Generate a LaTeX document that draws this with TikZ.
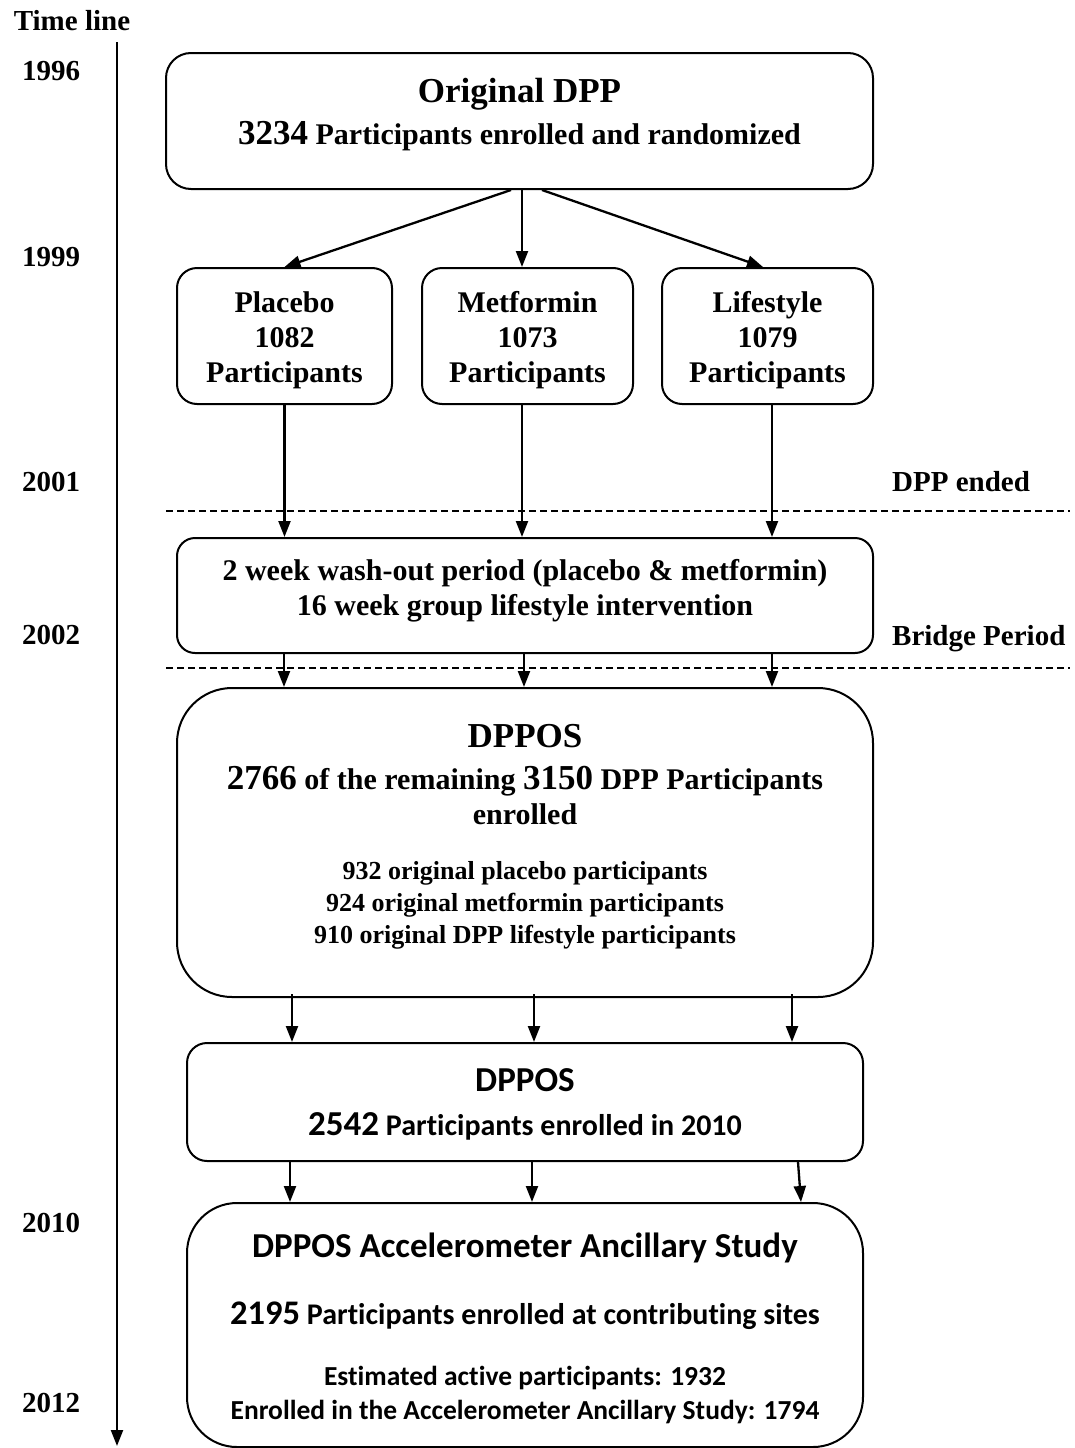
\documentclass[tikz,border=0pt]{standalone}
\usepackage{fontspec}
\setmainfont{Liberation Serif}
\newfontfamily\carlitofont[Ligatures=NoCommon]{Carlito}
\usetikzlibrary{arrows.meta}
\newcommand\fsz[2]{\fontsize{#1}{#2}\selectfont}

\begin{document}
\begin{tikzpicture}[x=1pt,y=-1pt,
  box/.style={draw,line width=2pt,rounded corners=#1,inner sep=0pt},
  box/.default=20pt,
  arr/.style={-{Triangle[length=16pt,width=12pt]},line width=2.3pt},
  sepline/.style={line width=1.3pt,dash pattern=on 7pt off 4pt},
  txt/.style={font=\bfseries\fsz{30}{35},align=center,inner sep=0pt}]
  \useasboundingbox (0,0) rectangle (1074,1448);

  % boxes
  \node (dpp) [box=25pt,minimum width=707pt,minimum height=136pt] at (519.5,121) {};
  \node (plc) [box,minimum width=215pt,minimum height=136pt] at (284.5,336) {};
  \node (met) [box,minimum width=211pt,minimum height=136pt] at (527.5,336) {};
  \node (lif) [box,minimum width=211pt,minimum height=136pt] at (767.5,336) {};
  \node (brg) [box=18pt,minimum width=696pt,minimum height=115pt] at (525,595.5) {};
  \node (dppos) [box=55pt,minimum width=696pt,minimum height=309pt] at (525,842.5) {};
  \node (dp10) [box,minimum width=676pt,minimum height=118pt] at (525,1102) {};
  \node (acc) [box=50pt,minimum width=676pt,minimum height=244pt] at (525,1325) {};

  % texts
  \node (dpptxt) [txt] at (519.5,115)
    {{\fsz{35}{42}Original DPP}\\[7pt]{\fsz{35}{35}3234} Participants enrolled and randomized};
  \node (plctxt) [txt] at (284.5,340) {Placebo\\1082\\Participants};
  \node (mettxt) [txt] at (527.5,340) {Metformin\\1073\\Participants};
  \node (liftxt) [txt] at (767.5,340) {Lifestyle\\1079\\Participants};
  \node (brgtxt) [txt] at (525,591)
    {2 week wash-out period (placebo \& metformin)\\16 week group lifestyle intervention};
  \node (dppostxt) [txt] at (525,775)
    {{\fsz{35}{42}DPPOS}\\[7pt]{\fsz{35}{35}2766} of the remaining {\fsz{35}{35}3150} DPP Participants\\enrolled};
  \node (dpposlist) [txt,font=\bfseries\fsz{26}{32}] at (525,905)
    {932 original placebo participants\\924 original metformin participants\\910 original DPP lifestyle participants};
  \node (dp10txt) [txt,font=\carlitofont\bfseries\fsz{30}{44}] at (525,1104)
    {{\fsz{35}{44}DPPOS}\\{\fsz{35}{44}2542} Participants enrolled in 2010};
  \node (acchead) [txt,font=\carlitofont\bfseries\fsz{35}{38}] at (525,1248)
    {DPPOS Accelerometer Ancillary Study};
  \node (accmid) [txt,font=\carlitofont\bfseries\fsz{30}{34}] at (525,1316)
    {{\fsz{34.5}{34}2195} Participants enrolled at contributing sites};
  \node (acclow) [txt,font=\carlitofont\bfseries\fsz{27.5}{34}] at (525,1395)
    {Estimated active participants: 1932\\Enrolled in the Accelerometer Ancillary Study: 1794};

  % time line
  \node (tl) [txt,font=\bfseries\fsz{29}{30}] at (72,21) {Time line};
  \foreach \yr/\yy in {1996/71,1999/257,2001/482,2002/635,2010/1223,2012/1403}
    \node (y\yr) [txt,font=\bfseries\fsz{29}{30}] at (51,\yy) {\yr};
  \coordinate (tltop) at (117,42);
  \coordinate (tlbot) at (117,1446);
  \draw[arr] (tltop) -- (tlbot);

  \node (ended) [txt,anchor=west,font=\bfseries\fsz{29}{30}] at (892,482) {DPP ended};
  \node (bridge) [txt,anchor=west,font=\bfseries\fsz{29}{30}] at (892,639) {Bridge Period};
  \coordinate (dl1a) at (166,511);
  \coordinate (dl1b) at (1070,511);
  \coordinate (dl2a) at (166,668);
  \coordinate (dl2b) at (1070,668);
  \draw[sepline] (dl1a) -- (dl1b);
  \draw[sepline] (dl2a) -- (dl2b);

  % arrows
  \path (node cs:name=dpp,anchor=south) +(-8.5,0) coordinate (dppl);
  \path (node cs:name=dpp,anchor=south) +(2.5,0) coordinate (dppm);
  \path (node cs:name=dpp,anchor=south) +(22.5,0) coordinate (dppr);
  \path (node cs:name=met,anchor=north) +(-5.5,0) coordinate (meti);
  \path (node cs:name=lif,anchor=north) +(-4.5,0) coordinate (lifi);
  \draw[arr] (dppl) -- (plc.north);
  \draw[arr] (dppm) -- (meti);
  \draw[arr] (dppr) -- (lifi);

  \path (node cs:name=met,anchor=south) +(-5.5,0) coordinate (meto);
  \path (node cs:name=lif,anchor=south) +(4.5,0) coordinate (lifo);
  \draw[arr] (plc.south) -- (plc.south |- brg.north);
  \draw[arr] (meto) -- (meto |- brg.north);
  \draw[arr] (lifo) -- (lifo |- brg.north);

  \foreach \dx [count=\i] in {-241,-1,247}{
    \path (node cs:name=brg,anchor=south) +(\dx,0) coordinate (brgo\i);
    \draw[arr] (brgo\i) -- (brgo\i |- dppos.north);
  }
  \foreach \dx [count=\i] in {-233,9,267}{
    \path (node cs:name=dppos,anchor=south) +(\dx,-4) coordinate (dpo\i);
    \draw[arr] (dpo\i) -- (dpo\i |- dp10.north);
  }
  \foreach \dx/\ex [count=\i] in {-235/-235,7/7,273/276}{
    \path (node cs:name=dp10,anchor=south) +(\dx,0) coordinate (d10o\i);
    \path (node cs:name=acc,anchor=north) +(\ex,0) coordinate (acci\i);
    \draw[arr] (d10o\i) -- (acci\i);
  }
\end{tikzpicture}
\end{document}
